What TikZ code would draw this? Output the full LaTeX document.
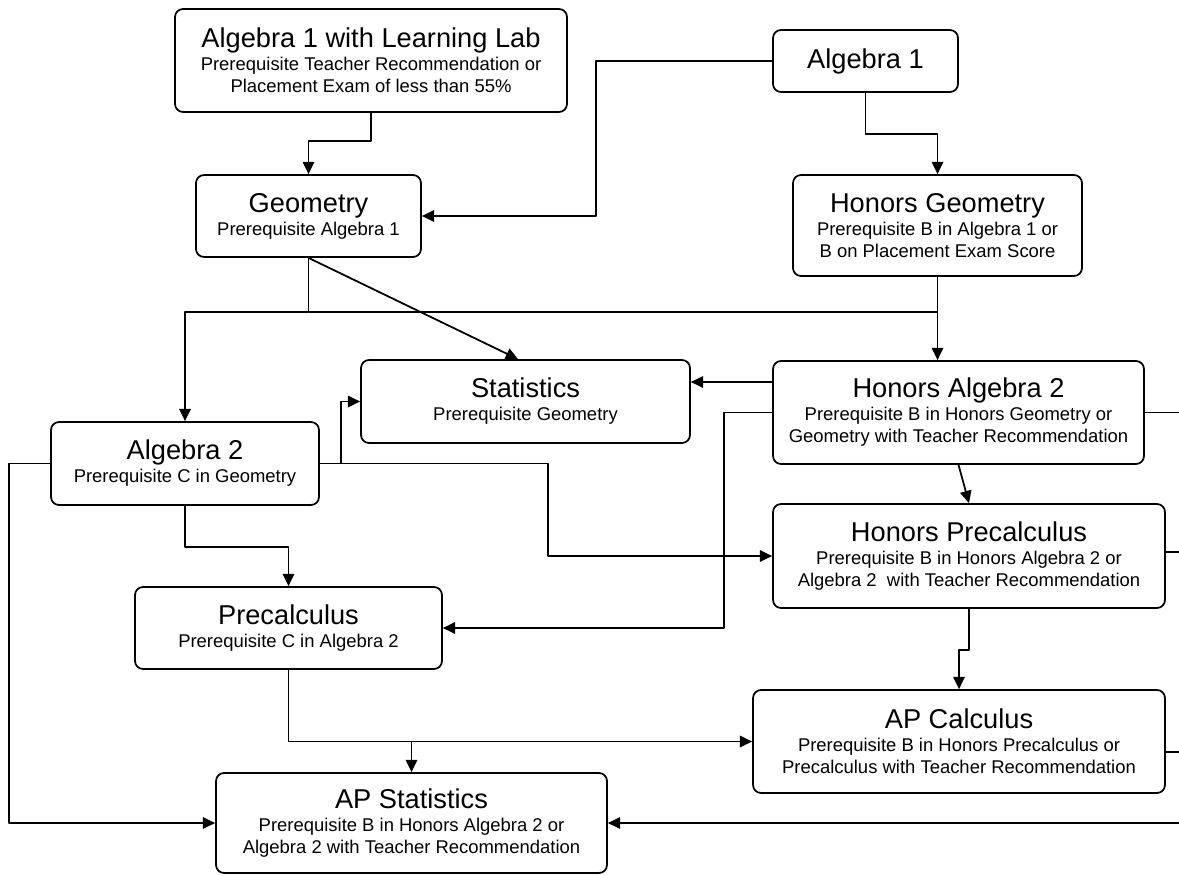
\documentclass[tikz,border=0pt]{standalone}
\usepackage{fontspec}
\setmainfont{Liberation Sans}
\usetikzlibrary{arrows.meta}
\tikzset{
  course/.style={draw,rounded corners=0.16cm,align=center,inner sep=0pt,
    font=\fontsize{10.5}{12.5}\selectfont},
}
\newcommand{\ctitle}[1]{{\fontsize{15.5}{13}\selectfont #1}}
\begin{document}
\begin{tikzpicture}[x=0.02cm,y=-0.02cm,line width=1pt,line join=round,>={Triangle[length=7pt,width=6.5pt]}]
	\useasboundingbox (0,0) rectangle (1179,875);
	\coordinate (rim) at (1179,0);
	% courses
	\node[course,minimum width=7.84cm,minimum height=2.06cm] (lab) at (371,60.5) {\ctitle{Algebra 1 with Learning Lab}\\[0.6pt] Prerequisite Teacher Recommendation or\\ Placement Exam of less than 55\%};
	\node[course,minimum width=3.7cm,minimum height=1.24cm] (alg1) at (865.5,61) {\ctitle{Algebra 1}};
	\node[course,minimum width=4.5cm,minimum height=1.64cm] (geo) at (308.5,216) {\ctitle{Geometry}\\[0.6pt] Prerequisite Algebra 1};
	\node[course,minimum width=5.78cm,minimum height=2.02cm] (hgeo) at (937.5,225.5) {\ctitle{Honors Geometry}\\[0.6pt] Prerequisite B in Algebra 1 or\\ B on Placement Exam Score};
	\node[course,minimum width=6.58cm,minimum height=1.66cm] (stat) at (525.5,401.5) {\ctitle{Statistics}\\[0.6pt] Prerequisite Geometry};
	\node[course,minimum width=7.42cm,minimum height=2.06cm] (halg2) at (958.5,412.5) {\ctitle{Honors Algebra 2}\\[0.6pt] Prerequisite B in Honors Geometry or\\ Geometry with Teacher Recommendation};
	\node[course,minimum width=5.36cm,minimum height=1.66cm] (alg2) at (185,463.5) {\ctitle{Algebra 2}\\[0.6pt] Prerequisite C in Geometry};
	\node[course,minimum width=7.84cm,minimum height=2.08cm] (hpre) at (969,556) {\ctitle{Honors Precalculus}\\[0.6pt] Prerequisite B in Honors Algebra 2 or\\ Algebra 2\ \ with Teacher Recommendation};
	\node[course,minimum width=6.14cm,minimum height=1.64cm] (pre) at (288.5,628) {\ctitle{Precalculus}\\[0.6pt] Prerequisite C in Algebra 2};
	\node[course,minimum width=8.24cm,minimum height=2.06cm] (apcalc) at (959,741.5) {\ctitle{AP Calculus}\\[0.6pt] Prerequisite B in Honors Precalculus or\\ Precalculus with Teacher Recommendation};
	\node[course,minimum width=7.82cm,minimum height=2cm] (apstat) at (411.5,823) {\ctitle{AP Statistics}\\[0.6pt] Prerequisite B in Honors Algebra 2 or\\ Algebra 2 with Teacher Recommendation};
	% top rows
	\draw[->] (lab.south) -- ++(0,28) -| (geo.north);
	\draw[->] (alg1.west) -- ++(-176,0) |- (geo.east);
	\draw[->] (alg1.south) -- ++(0,41) -| (hgeo.north);
	\draw[->] (geo.south) -- ++(0,54) coordinate (split) -| (alg2.north);
	\draw[->] (geo.south) -- ([xshift=-0.15cm]stat.north);
	\draw[->] (hgeo.south) -- (hgeo.south |- halg2.north);
	\draw (hgeo.south |- split) -- (split);
	% middle
	\draw[->] ([yshift=0.61cm]halg2.west) -- ([yshift=0.61cm]halg2.west -| stat.east);
	\draw[->] (halg2.west) -- ++(-48,0) |- (pre.east);
	\draw[->] (halg2.south) -- (hpre.north);
	\draw[->] (alg2.east) -- ++(21,0) |- (stat.west);
	\draw[->] (alg2.east) -- ++(228,0) |- (hpre.west);
	\draw[->] (alg2.south) -- ++(0,41) -| (pre.north);
	\draw[->] (alg2.west) -- ++(-41,0) |- (apstat.west);
	% bottom
	\draw[->] (hpre.south) -- ++(0,41) -| (apcalc.north);
	\draw[->] (pre.south) |- (apcalc.west);
	\draw[->] (pre.south |- apcalc.west) -| (apstat.north);
	% off the right edge
	\draw (halg2.east) -- (halg2.east -| rim);
	\draw ([yshift=0.08cm]hpre.east) -- ([yshift=0.08cm]hpre.east -| rim);
	\draw ([yshift=-0.21cm]apcalc.east) -- ([yshift=-0.21cm]apcalc.east -| rim);
	\draw[->] (apstat.east -| rim) -- (apstat.east);
\end{tikzpicture}
\end{document}
